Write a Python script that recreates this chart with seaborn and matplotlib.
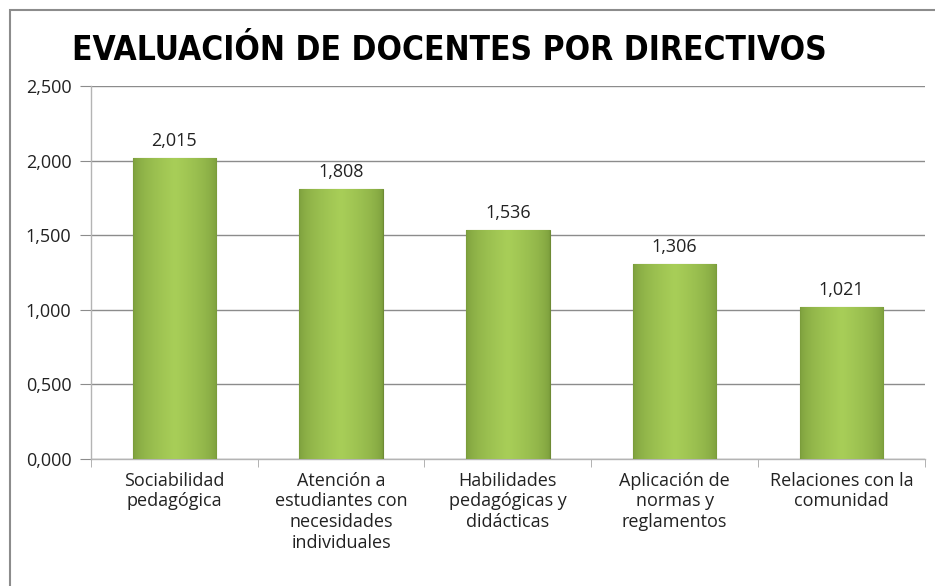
import numpy as np
import pandas as pd
import matplotlib
matplotlib.use("Agg")
import matplotlib.pyplot as plt
from matplotlib.patches import Rectangle
from matplotlib.ticker import FuncFormatter, MultipleLocator, FixedLocator
import seaborn as sns

# data
categories = [
    "Sociabilidad\npedagógica",
    "Atención a\nestudiantes con\nnecesidades\nindividuales",
    "Habilidades\npedagógicas y\ndidácticas",
    "Aplicación de\nnormas y\nreglamentos",
    "Relaciones con la\ncomunidad",
]
values = [2.015, 1.808, 1.536, 1.306, 1.021]

df = pd.DataFrame({"categoria": categories, "valor": values})

sns.set_style("white")
plt.rcParams["font.family"] = ["Open Sans", "DejaVu Sans"]

fig = plt.figure(figsize=(9.35, 5.86), dpi=100)
ax = fig.add_axes([0.0973, 0.2167, 0.8917, 0.6363])

sns.barplot(data=df, x="categoria", y="valor", color="#9BBB59", width=0.5,
            saturation=1, ax=ax, zorder=3)

# horizontal gradient on each bar (darker edges, lighter centre)
grad = np.linspace(0, 1, 200)
shade = 1 - np.abs(grad - 0.5) * 2
cmap = matplotlib.colors.LinearSegmentedColormap.from_list(
    "g", ["#789A3A", "#A8CE58"])
for p in ax.patches:
    x0, w, h = p.get_x(), p.get_width(), p.get_height()
    im = ax.imshow(shade[np.newaxis, :] ** 0.5, cmap=cmap, aspect="auto",
                   extent=[x0, x0 + w, 0, h], zorder=4)
    im.set_clip_path(p)
    p.set_edgecolor("#6E8B35")
    p.set_linewidth(0.8)

for p, v in zip(ax.patches, values):
    ax.text(p.get_x() + p.get_width() / 2, v + 0.055, f"{v:.3f}".replace(".", ","),
            ha="center", va="bottom", fontsize=13, color="#222222")

ax.set_xlim(-0.5, len(categories) - 0.5)
ax.set_ylim(0, 2.5)
ax.yaxis.set_major_locator(MultipleLocator(0.5))
ax.yaxis.set_major_formatter(FuncFormatter(lambda v, _: f"{v:.3f}".replace(".", ",")))
ax.yaxis.grid(True, color="#8C8C8C", linewidth=1, zorder=0)
ax.set_axisbelow(True)

ax.set_xlabel("")
ax.set_ylabel("")
ax.tick_params(axis="y", labelsize=13, length=8, color="#8C8C8C", left=True,
               direction="out", pad=6, labelcolor="#222222")
ax.tick_params(axis="x", labelsize=13, length=0, pad=9, labelcolor="#222222")
ax.xaxis.set_minor_locator(FixedLocator(np.arange(-0.5, len(categories), 1)))
ax.tick_params(axis="x", which="minor", length=6, color="#A6A6A6", bottom=True)

for s in ["top", "right"]:
    ax.spines[s].set_visible(False)
for s in ["left", "bottom"]:
    ax.spines[s].set_color("#B4B4B4")
    ax.spines[s].set_linewidth(1)

fig.text(0.481, 0.913, "EVALUACIÓN DE DOCENTES POR DIRECTIVOS",
         ha="center", va="center", fontsize=24, fontweight="bold",
         family=["DejaVu Sans"], fontstretch="condensed", color="#000000")

# outer chart frame
fig.patches.append(Rectangle((10 / 935, -0.05), 1.1, 1.033, transform=fig.transFigure,
                             fill=False, edgecolor="#8C8C8C", linewidth=1.5))

fig.savefig("out.png", dpi=100)
